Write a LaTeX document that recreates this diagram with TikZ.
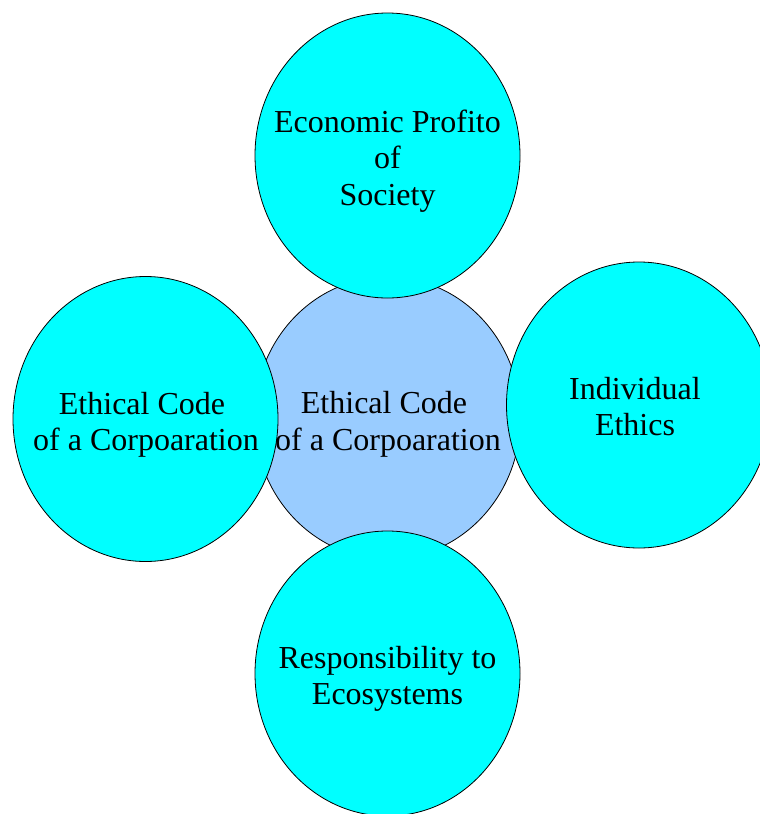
\documentclass[tikz,border=0pt]{standalone}
\usepackage{fontspec}
\setmainfont{Liberation Serif}
\usetikzlibrary{shapes.geometric}
\definecolor{cyanfill}{HTML}{00FFFF}
\definecolor{corefill}{HTML}{99CCFF}
\tikzset{
  bubble/.style={ellipse, draw=black, line width=0.8pt, fill=cyanfill, inner sep=0pt, minimum width=265pt, minimum height=285pt},
  core/.style={ellipse, draw=black, line width=0.8pt, fill=corefill, inner sep=0pt, minimum width=266pt, minimum height=282pt},
  label/.style={align=center, inner sep=0pt, font=\fontsize{32}{36.5}\selectfont, text=black}
}
\begin{document}
\begin{tikzpicture}[x=1pt, y=-1pt]
\useasboundingbox (0,0) rectangle (760,814);
\node[core] (center) at (387.5,418) {};
\node[bubble] (top) at (387.5,155.5) {};
\node[bubble] (left) at (145.5,419) {};
\node[bubble, minimum height=286pt] (right) at (639,405) {};
\node[bubble] (bottom) at (387.5,673.5) {};
\node[label] (toptext) at (387.5,161) {Economic Profito\\of\hspace*{6pt}\\Society};
\node[label] (lefttext) at (146,425) {Ethical Code\hspace*{8pt}\\of a Corpoaration};
\node[label] (centertext) at (388,424.5) {Ethical Code\hspace*{8pt}\\of a Corpoaration};
\node[label] (righttext) at (635,406.5) {Individual\\Ethics};
\node[label] (bottomtext) at (387.5,679) {Responsibility to\\Ecosystems};
\end{tikzpicture}
\end{document}
